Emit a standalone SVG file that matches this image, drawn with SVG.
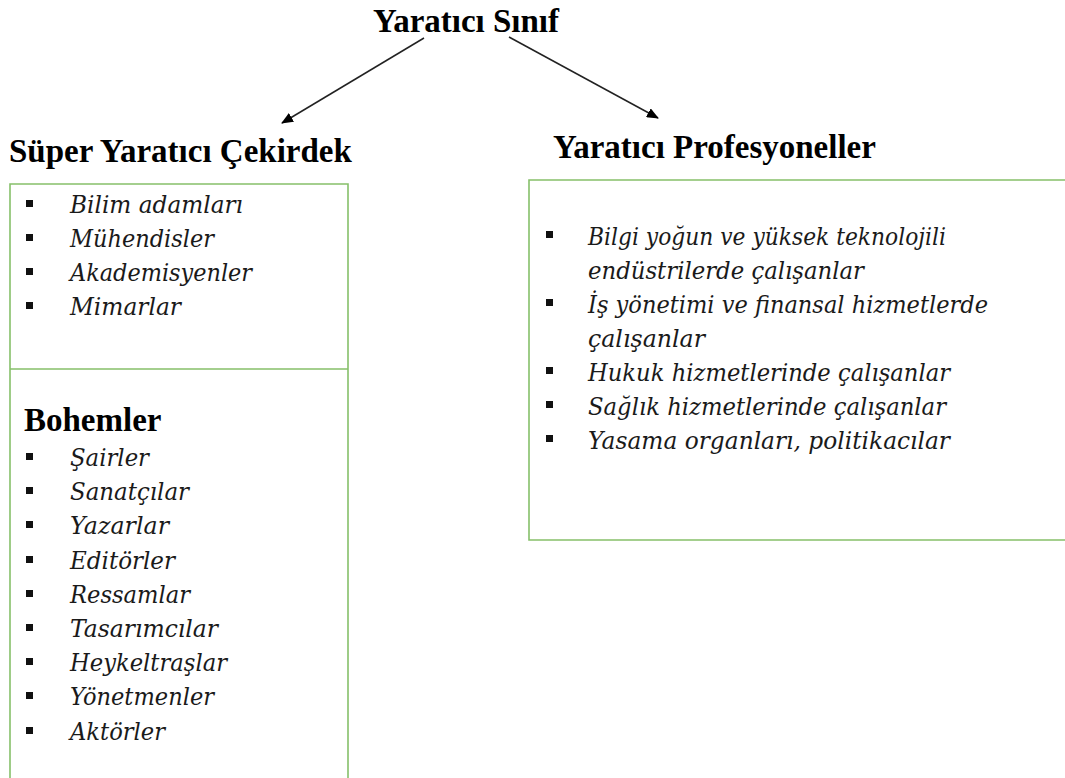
<svg xmlns="http://www.w3.org/2000/svg" width="1065" height="778" viewBox="0 0 1065 778">
<style>
.h{font-family:"Liberation Serif","Times New Roman",serif;font-weight:bold;font-size:33px;fill:#000}
.it{font-family:"DejaVu Serif",serif;font-style:italic;font-size:25px;fill:#1a1a1a}
.box{fill:none;stroke:#86c06a;stroke-width:1.6}
.b{fill:#111}
.conn{stroke:#222;stroke-width:1.5;fill:none}
</style>
<defs>
<marker id="ah" markerWidth="12" markerHeight="10" refX="11" refY="5" orient="auto" markerUnits="userSpaceOnUse">
<path d="M0,0 L12,5 L0,10 Z" fill="#000"/>
</marker>
</defs>
<rect width="1065" height="778" fill="#fff"/>
<g id="title">
<text class="h" x="466" y="32" text-anchor="middle">Yaratıcı Sınıf</text>
</g>
<g id="connectors">
<line class="conn" x1="424" y1="38" x2="282" y2="123" marker-end="url(#ah)"/>
<line class="conn" x1="509" y1="37" x2="658" y2="118" marker-end="url(#ah)"/>
</g>
<g id="super-core">
<text class="h" x="9" y="162">Süper Yaratıcı Çekirdek</text>
<path class="box" d="M10,780 L10,184 L348,184 L348,780 M10,369 L348,369"/>
<rect class="b" x="26" y="200" width="7" height="7"/>
<rect class="b" x="26" y="234" width="7" height="7"/>
<rect class="b" x="26" y="268" width="7" height="7"/>
<rect class="b" x="26" y="302" width="7" height="7"/>
<text class="it" x="70" y="213" textLength="173" lengthAdjust="spacingAndGlyphs">Bilim adamları</text>
<text class="it" x="70" y="247" textLength="144" lengthAdjust="spacingAndGlyphs">Mühendisler</text>
<text class="it" x="70" y="281" textLength="182" lengthAdjust="spacingAndGlyphs">Akademisyenler</text>
<text class="it" x="70" y="315" textLength="111" lengthAdjust="spacingAndGlyphs">Mimarlar</text>
</g>
<g id="bohemians">
<text class="h" x="24" y="431">Bohemler</text>
<rect class="b" x="26" y="453" width="7" height="7"/>
<rect class="b" x="26" y="487" width="7" height="7"/>
<rect class="b" x="26" y="521" width="7" height="7"/>
<rect class="b" x="26" y="556" width="7" height="7"/>
<rect class="b" x="26" y="590" width="7" height="7"/>
<rect class="b" x="26" y="624" width="7" height="7"/>
<rect class="b" x="26" y="658" width="7" height="7"/>
<rect class="b" x="26" y="692" width="7" height="7"/>
<rect class="b" x="26" y="727" width="7" height="7"/>
<text class="it" x="70" y="466" textLength="79" lengthAdjust="spacingAndGlyphs">Şairler</text>
<text class="it" x="70" y="500" textLength="119" lengthAdjust="spacingAndGlyphs">Sanatçılar</text>
<text class="it" x="70" y="534" textLength="99" lengthAdjust="spacingAndGlyphs">Yazarlar</text>
<text class="it" x="70" y="569" textLength="105" lengthAdjust="spacingAndGlyphs">Editörler</text>
<text class="it" x="70" y="603" textLength="120" lengthAdjust="spacingAndGlyphs">Ressamlar</text>
<text class="it" x="70" y="637" textLength="148" lengthAdjust="spacingAndGlyphs">Tasarımcılar</text>
<text class="it" x="70" y="671" textLength="157" lengthAdjust="spacingAndGlyphs">Heykeltraşlar</text>
<text class="it" x="70" y="705" textLength="144" lengthAdjust="spacingAndGlyphs">Yönetmenler</text>
<text class="it" x="70" y="740" textLength="95" lengthAdjust="spacingAndGlyphs">Aktörler</text>
</g>
<g id="professionals">
<text class="h" x="553" y="158">Yaratıcı Profesyoneller</text>
<path class="box" d="M1067,180 L529,180 L529,540 L1067,540"/>
<rect class="b" x="546" y="231" width="7" height="7"/>
<rect class="b" x="546" y="299" width="7" height="7"/>
<rect class="b" x="546" y="367" width="7" height="7"/>
<rect class="b" x="546" y="401" width="7" height="7"/>
<rect class="b" x="546" y="435" width="7" height="7"/>
<text class="it" x="588" y="245" textLength="358" lengthAdjust="spacingAndGlyphs">Bilgi yoğun ve yüksek teknolojili</text>
<text class="it" x="588" y="279" textLength="276" lengthAdjust="spacingAndGlyphs">endüstrilerde çalışanlar</text>
<text class="it" x="588" y="313" textLength="400" lengthAdjust="spacingAndGlyphs">İş yönetimi ve finansal hizmetlerde</text>
<text class="it" x="588" y="347" textLength="117" lengthAdjust="spacingAndGlyphs">çalışanlar</text>
<text class="it" x="588" y="381" textLength="362" lengthAdjust="spacingAndGlyphs">Hukuk hizmetlerinde çalışanlar</text>
<text class="it" x="588" y="415" textLength="358" lengthAdjust="spacingAndGlyphs">Sağlık hizmetlerinde çalışanlar</text>
<text class="it" x="588" y="449" textLength="362" lengthAdjust="spacingAndGlyphs">Yasama organları, politikacılar</text>
</g>
</svg>
